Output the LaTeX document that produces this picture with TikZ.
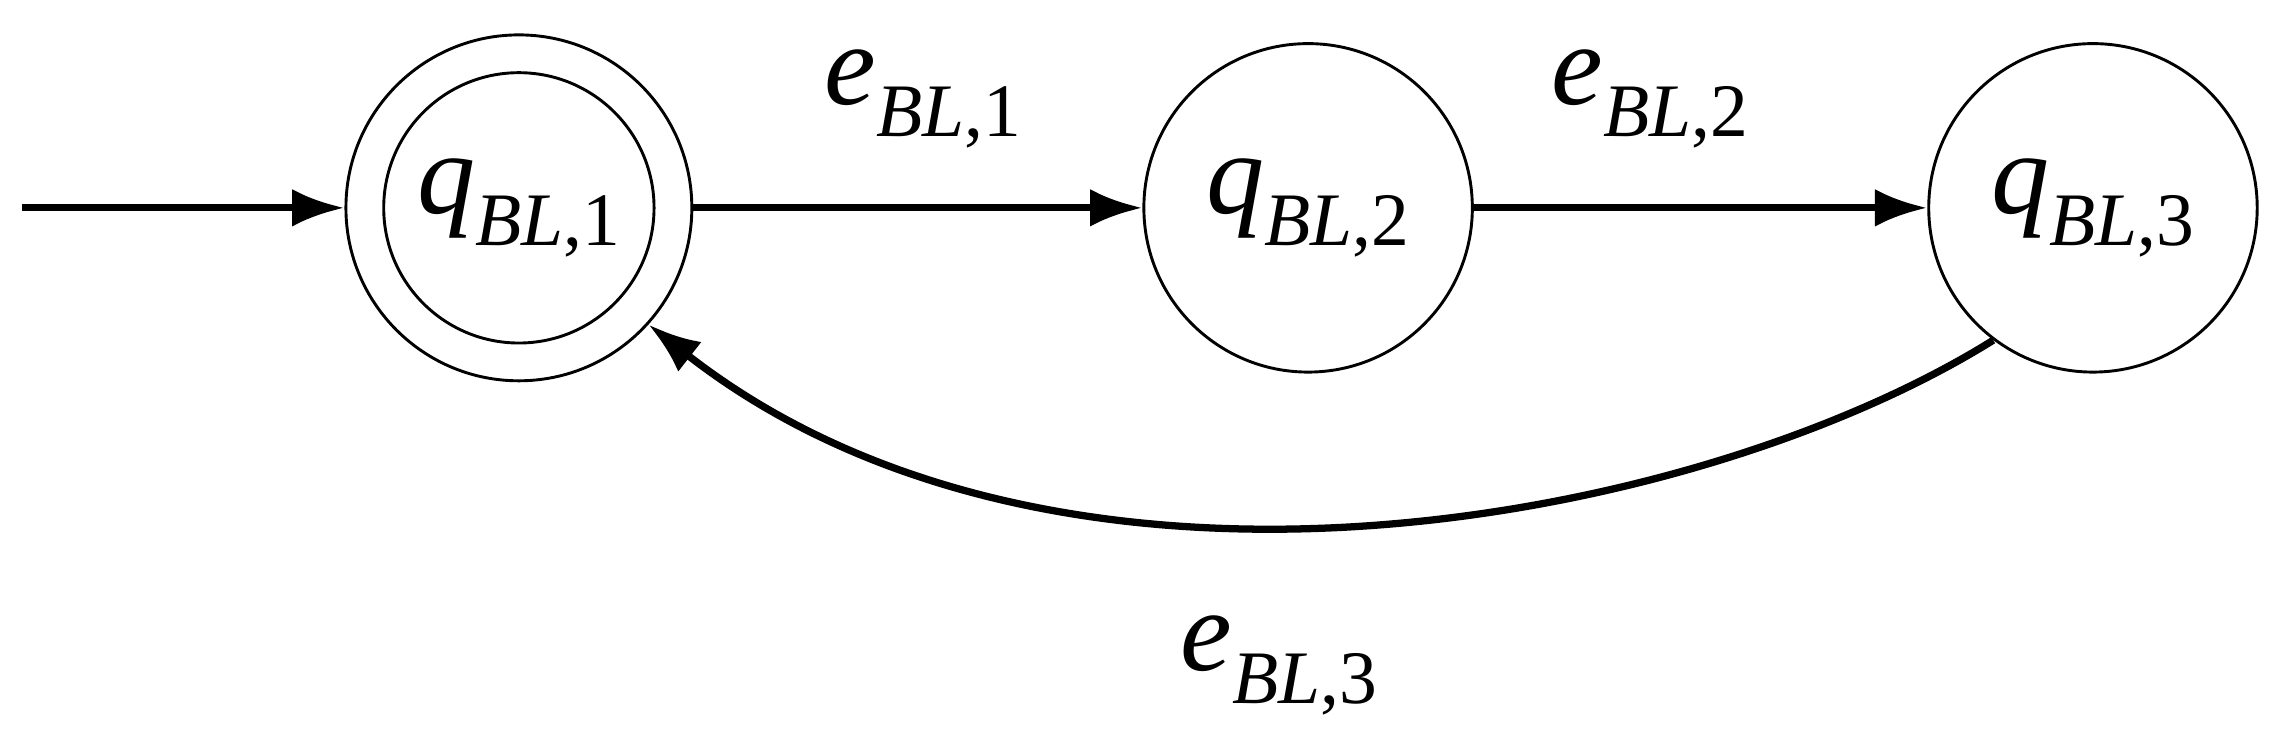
\documentclass[tikz,border=0pt]{standalone}
\usepackage{fontspec}
\newfontfamily\tms{Liberation Serif}
\usetikzlibrary{arrows.meta}
\newcommand{\lab}[2]{\tms\fontsize{80}{80}\selectfont\textit{#1}\raisebox{-0.28em}{\fontsize{52}{52}\selectfont\textit{BL},#2}}
\begin{document}
\begin{tikzpicture}[x=1pt,y=-1pt,
  st/.style={circle,draw,line width=2pt,minimum size=226pt,inner sep=0pt},
  ar/.style={line width=5pt,-{Latex[length=36pt,width=26pt]}}]
\useasboundingbox (0,0) rectangle (1568,515);
\node[st,minimum size=238pt] (q1) at (357,143) {};
\node[st,minimum size=186pt] (q1i) at (357,143) {\lab{q}{1}};
\node[st] (q2) at (900,143) {\lab{q}{2}};
\node[st] (q3) at (1440,143) {\lab{q}{3}};
\coordinate (s) at (15,143);
\draw[ar] (s) -- (q1);
\draw[ar] (q1) -- (q2);
\draw[ar] (q2) -- (q3);
\draw[ar] (q3.-127) .. controls (1170,360) and (730,445) .. (q1.-42);
\node (l1) at (635,68) {\lab{e}{1}};
\node (l2) at (1135,68) {\lab{e}{2}};
\node (l3) at (880,458) {\lab{e}{3}};
\end{tikzpicture}
\end{document}
